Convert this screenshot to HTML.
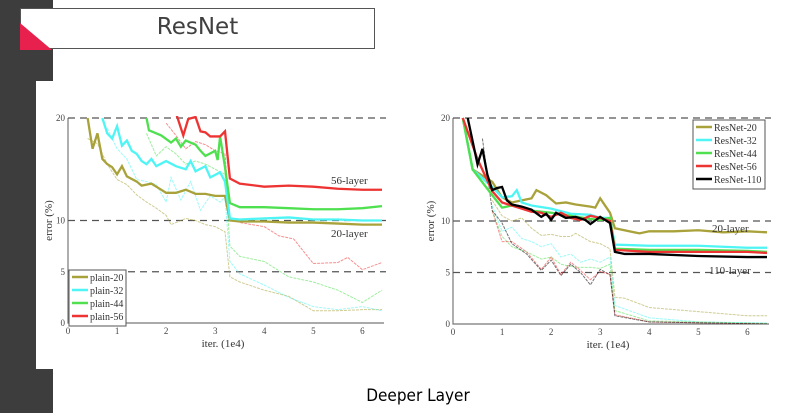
<!DOCTYPE html>
<html><head><meta charset="utf-8"><style>
body{margin:0;width:789px;height:413px;background:#fff;overflow:hidden;position:relative;font-family:"Liberation Sans",sans-serif}
.dk{position:absolute;background:#3d3d3d}
svg text{font-family:"Liberation Serif",serif}
</style></head><body>
<div class="dk" style="left:0;top:0;width:53px;height:81px"></div>
<div class="dk" style="left:0;top:81px;width:36px;height:288px"></div>
<div class="dk" style="left:0;top:369px;width:53px;height:44px"></div>
<div style="position:absolute;left:20px;top:8px;width:355px;height:41px;border:1px solid #555;background:#fff;box-sizing:border-box"></div>
<svg style="position:absolute;left:20px;top:23px" width="33" height="27"><polygon points="0,0 0,27 32,27" fill="#e8204e"/></svg>
<div style="position:absolute;left:20px;top:14px;width:355px;text-align:center;font-size:23px;color:#404040;font-family:'DejaVu Sans',sans-serif">ResNet</div>
<div style="position:absolute;left:318px;top:386px;width:200px;text-align:center;font-size:17px;color:#000;font-family:'DejaVu Sans',sans-serif;transform:scaleX(0.9)">Deeper Layer</div>
<svg id="chart" width="789" height="413" style="position:absolute;left:0;top:0"></svg>
<script>
// Left chart (plain nets)
const leftNames=['plain-20','plain-32','plain-44','plain-56'];
const leftColors=['#a9a23a','#4ff4f4','#4fe04f','#ee3333'];
const lTestX=[[0.4,0.5,0.6,0.7,0.8,0.9,1.0,1.1,1.2,1.4,1.5,1.7,1.8,2.0,2.2,2.4,2.6,2.8,3.0,3.2,3.3,3.5,4,4.5,5,5.5,6,6.4],
[0.7,0.8,0.9,1.0,1.1,1.2,1.3,1.4,1.5,1.6,1.7,1.8,2.0,2.2,2.4,2.5,2.6,2.8,2.9,3.1,3.2,3.3,3.5,4,4.5,5,5.5,6,6.4],
[1.6,1.65,1.9,2.1,2.2,2.3,2.4,2.6,2.7,2.8,3.0,3.05,3.1,3.2,3.3,3.5,4,4.5,5,5.5,6,6.4],
[2.2,2.35,2.45,2.6,2.7,2.8,2.9,3.1,3.2,3.3,3.5,4,4.5,5,5.5,6,6.4]];
const lTestY=[[20,17,18.5,16,15.5,15.2,14.5,15.3,14.3,13.8,13.4,13.6,13.3,12.7,12.7,13.0,12.6,12.6,12.4,12.4,10.0,9.9,9.9,9.8,9.8,9.7,9.6,9.6],
[20,18.5,18,19.2,17.3,17.8,16.8,16.5,15.8,15.5,16,15.3,15.8,15.3,15,15.8,14.8,15.3,14.2,14.7,13.8,10.2,10.1,10.2,10.3,10.1,10.1,10.0,10.0],
[20,18.8,18.3,17.6,18,17.2,17.8,17.4,16.8,16.3,16.8,15.9,18.2,15.2,11.7,11.3,11.3,11.2,11.1,11.1,11.2,11.4],
[20.5,18.3,19.9,20.1,18.7,18.6,18.2,18.2,18.7,14.1,13.6,13.3,13.4,13.3,13.1,13.0,13.0]];
const lTrainX=[[0.4,0.6,0.8,1.0,1.2,1.4,1.6,1.8,2.0,2.1,2.4,2.6,2.8,3.0,3.2,3.3,3.5,4,4.5,5,5.5,6,6.4],
[0.8,1.0,1.2,1.4,1.6,1.8,2.0,2.1,2.3,2.5,2.7,2.9,3.1,3.2,3.3,3.5,4,4.5,5,5.5,6,6.4],
[1.6,1.8,2.0,2.2,2.4,2.6,2.8,3.0,3.2,3.3,3.5,4,4.5,5,5.5,6,6.4],
[2.0,2.2,2.4,2.6,2.8,3.0,3.2,3.3,3.5,4,4.3,4.6,5,5.5,5.7,6,6.4]];
const lTrainY=[[18,17.5,15.5,14,13.5,12.5,11.8,11.2,10.5,9.6,10.2,10,9.6,9.4,8.9,4.5,4,3.2,2.6,1.2,1.2,1.3,1.3],
[19,17,16,14,13.8,13.5,11.8,14.2,12,13.8,11,12.4,11.8,12.3,6,4.8,3.7,2.5,1.6,1.3,1.6,1.2],
[18.5,16.3,17.2,16.5,15.5,15.8,15.5,15,14.5,7.5,6.5,6.0,4.5,4.0,3.2,2,3.2],
[19.5,18.3,17,17.7,17.4,16.8,16.5,10.3,9.8,9.4,8.5,8.2,5.8,5.9,6.4,5.2,5.9]];
// Right chart (ResNets)
const rightNames=['ResNet-20','ResNet-32','ResNet-44','ResNet-56','ResNet-110'];
const rightColors=['#a9a23a','#4ff4f4','#4fe04f','#ee3333','#000000'];
const rTestX=[[0.2,0.4,0.8,1.0,1.2,1.4,1.6,1.7,1.9,2.1,2.3,2.5,2.8,2.9,3.0,3.1,3.2,3.3,3.8,4,4.5,5,5.5,6,6.4],
[0.2,0.4,0.8,1.0,1.2,1.3,1.4,1.6,2.0,2.4,2.8,3.0,3.2,3.3,4,5,6,6.4],
[0.2,0.4,0.8,1.0,1.2,1.6,2.0,2.4,2.8,3.0,3.2,3.3,4,5,6,6.4],
[0.2,0.5,0.8,1.0,1.2,1.6,1.8,2.0,2.2,2.4,2.6,2.8,3.0,3.2,3.3,4,4.5,5,6,6.4],
[0.3,0.5,0.6,0.7,0.8,0.9,1.0,1.1,1.2,1.4,1.6,1.8,1.9,2.0,2.1,2.3,2.5,2.7,2.8,3.0,3.2,3.3,3.5,4,5,6,6.4]];
const rTestY=[[20,15,13.8,12.3,11.8,12.0,12.2,13,12.5,11.7,11.8,11.6,11.4,11.3,12.2,11.5,10.8,9.3,8.8,9,9,9.1,8.9,9.0,8.9],
[20,15,13.3,12.3,12.4,13,11.8,11.5,11.2,10.7,10.6,10.3,10.3,7.7,7.6,7.6,7.4,7.4],
[20,15,12.5,11.3,11.5,11,10.8,10.5,10.2,10.1,10.3,7.3,7.2,7.2,7.1,7.0],
[20,16,12.9,11.8,11.5,10.9,10.8,10.4,10.8,10.3,10.1,10.5,10.3,10.0,7.2,7.0,7.0,7.0,7.0,6.9],
[20,15.5,17,14.5,13,13.2,13.3,12,11.6,11.4,11.1,10.4,10.7,10.1,10.8,10.3,10.4,10.1,9.7,10.4,9.8,7.0,6.8,6.8,6.6,6.5,6.5]];
const rTrainX=[[0.8,1.0,1.2,1.4,1.6,1.8,2.0,2.2,2.4,2.5,2.8,3.0,3.2,3.3,3.5,4,5,6,6.4],
[0.8,1.0,1.2,1.4,1.6,1.8,2.0,2.2,2.4,2.6,2.8,3.0,3.2,3.3,4,5,6.4],
[0.8,1.0,1.2,1.5,1.8,2.0,2.2,2.5,2.8,3.0,3.2,3.3,4,6.4],
[0.8,1.0,1.2,1.5,1.8,2.0,2.2,2.4,2.6,2.8,3.0,3.2,3.3,4,6.4],
[0.6,0.8,1.0,1.2,1.5,1.8,2.0,2.2,2.4,2.6,2.8,3.0,3.2,3.3,4,6.4]];
const rTrainY=[[12,10.5,10,10.3,9.3,8.6,8.7,8.5,8.5,8.8,8,7.8,7.3,2.6,2.5,1.6,1.2,0.8,0.8],
[11.5,9,9.4,8.3,8,7.5,7.8,6.5,6.8,6,6.3,6,6.5,1.8,0.6,0.2,0.1],
[11,8.5,7.5,7,6.3,6.5,5.8,5.5,5.5,5.4,5.8,1.3,0.3,0.05],
[11,8,8,7,5.3,6.5,4.8,6,5.2,4.3,5.1,4.8,0.9,0.2,0],
[18,11,9.8,7.8,6.8,5.2,6.2,4.7,5.8,5,3.8,5.3,4.8,0.8,0.2,0]];

const NS='http://www.w3.org/2000/svg';
const svg=document.getElementById('chart');
function mk(tag,attrs,parent){const e=document.createElementNS(NS,tag);for(const k in attrs)e.setAttribute(k,attrs[k]);(parent||svg).appendChild(e);return e;}

function drawChart(id,x0,x1,yTop,yBot,names,colors,testX,testY,trainX,trainY,legend,labels,ylabX){
  const sx=v=>x0+(x1-x0)*v/6.4, sy=v=>yBot-(yBot-yTop)*v/20;
  const g=mk('g',{});
  
  
  const clip=mk('clipPath',{id:id+'-clip'},g);
  mk('rect',{x:x0,y:yTop-2,width:x1-x0+2,height:yBot-yTop+2},clip);
  // axes
  const ax=mk('path',{d:`M${x0},${yTop}V${yBot}H${x1+2}`,stroke:'#777',fill:'none','stroke-width':1.2},g);
  
  
  [20,10,5].forEach(v=>{const l=mk('line',{x1:x0,x2:x1+4,y1:sy(v),y2:sy(v),stroke:'#555','stroke-dasharray':'7,5','stroke-width':1.3},g);
    
    });
  [0,5,10,20].forEach(v=>{const t=mk('text',{x:x0-3,y:sy(v)+3,'text-anchor':'end','font-size':9,fill:'#444'},g);t.textContent=v;
    
    });
  [0,1,2,3,4,5,6].forEach(v=>{const t=mk('text',{x:sx(v),y:yBot+11,'text-anchor':'middle','font-size':9,fill:'#444'},g);t.textContent=v;
    
    });
  const xt=mk('text',{x:(x0+x1)/2-2,y:yBot+24,'text-anchor':'middle','font-size':11,fill:'#333'},g);xt.textContent='iter. (1e4)';
  
  
  const yt=mk('text',{x:0,y:0,'text-anchor':'middle','font-size':11,fill:'#333',transform:`translate(${ylabX},${(yTop+yBot)/2}) rotate(-90)`},g);yt.textContent='error (%)';
  
  
  const pg=mk('g',{'clip-path':`url(#${id}-clip)`},g);
  trainX.forEach((xs,i)=>{const p=mk('polyline',{points:xs.map((x,j)=>sx(x)+','+sy(trainY[i][j])).join(' '),fill:'none',stroke:colors[i],'stroke-width':1,opacity:0.55,'stroke-dasharray':'3,1'},pg);
    
    });
  testX.forEach((xs,i)=>{const p=mk('polyline',{points:xs.map((x,j)=>sx(x)+','+sy(testY[i][j])).join(' '),fill:'none',stroke:colors[i],'stroke-width':2.3},pg);
    
    });
  labels.forEach(l=>{const t=mk('text',{x:l[0],y:l[1],'font-size':11,fill:'#333'},g);t.textContent=l[2];
    
    });
  const lg=mk('g',{},g);
  
  
  mk('rect',{x:legend[0],y:legend[1],width:legend[2],height:names.length*13+4,fill:'#fff',stroke:'#555','stroke-width':1},lg);
  names.forEach((n,i)=>{const yy=legend[1]+9+i*13;
    mk('line',{x1:legend[0]+3,x2:legend[0]+19,y1:yy-2,y2:yy-2,stroke:colors[i],'stroke-width':2.5},lg);
    const t=mk('text',{x:legend[0]+21,y:yy+2,'font-size':10,fill:'#333'},lg);t.textContent=n;
    
    });
}
drawChart('left-chart',68,382,118,323,leftNames,leftColors,lTestX,lTestY,lTrainX,lTrainY,[69,270,57],[[331,184,'56-layer'],[331,237,'20-layer']],52);
drawChart('right-chart',453,767,118,324,rightNames,rightColors,rTestX,rTestY,rTrainX,rTrainY,[693,120,72],[[712,232,'20-layer'],[709,274,'110-layer']],434);
</script>
</body></html>
